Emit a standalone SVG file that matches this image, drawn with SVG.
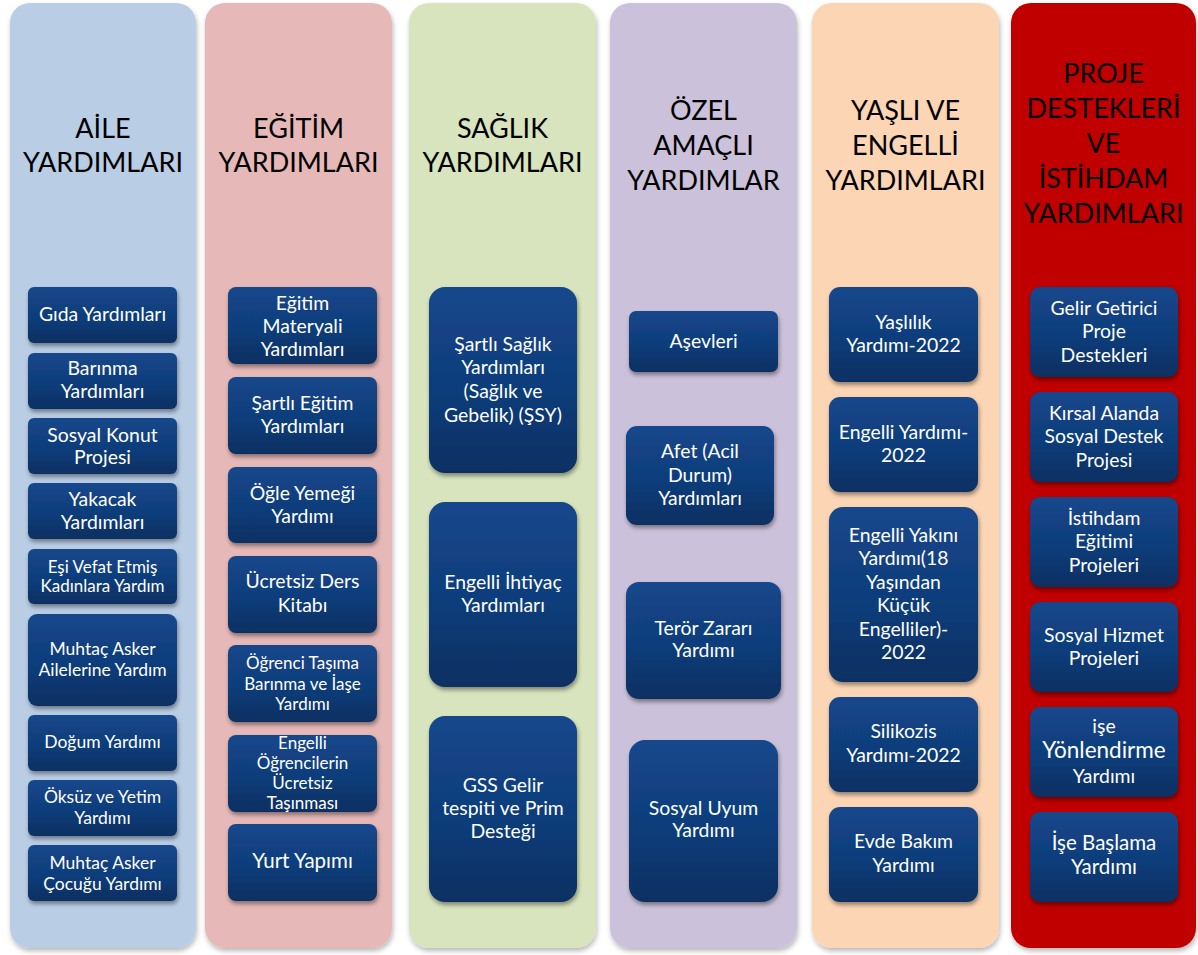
<svg xmlns="http://www.w3.org/2000/svg" width="1198" height="955" viewBox="0 0 1198 955">
<defs>
<linearGradient id="bx" x1="0" y1="0" x2="0" y2="1">
<stop offset="0" stop-color="#14478c"/>
<stop offset="0.55" stop-color="#103d7a"/>
<stop offset="1" stop-color="#0a2f62"/>
</linearGradient>
<filter id="csh" x="-10%" y="-5%" width="125%" height="115%">
<feDropShadow dx="1" dy="3" stdDeviation="2.5" flood-color="#000" flood-opacity="0.28"/>
</filter>
<filter id="bsh" x="-10%" y="-10%" width="125%" height="135%">
<feDropShadow dx="1" dy="3" stdDeviation="2.2" flood-color="#000" flood-opacity="0.4"/>
</filter>
</defs>
<style>
.col{filter:url(#csh)}
.b{fill:url(#bx);filter:url(#bsh)}
.h{font-family:Lato,"Open Sans","Liberation Sans",sans-serif;font-size:27px;fill:#000;text-anchor:middle}
.t{font-family:Lato,"Open Sans","Liberation Sans",sans-serif;font-size:19.4px;fill:#fff;text-anchor:middle}
.s{font-size:17px}
.m{font-size:17.5px}
.l{font-size:20.5px}
.xl{font-size:22.5px}
</style>
<rect width="1198" height="955" fill="#fff"/>

<g id="col-aile">
<rect class="col" x="10" y="3" width="186" height="945" rx="20" fill="#b9cde5"/>
<text class="h" x="103" y="138">AİLE</text>
<text class="h" x="103" y="172">YARDIMLARI</text>
</g>
<g id="col-egitim">
<rect class="col" x="205" y="3" width="187" height="945" rx="20" fill="#e6b9b8"/>
<text class="h" x="298.5" y="138">EĞİTİM</text>
<text class="h" x="298.5" y="172">YARDIMLARI</text>
</g>
<g id="col-saglik">
<rect class="col" x="409" y="3" width="187" height="945" rx="20" fill="#d7e4bd"/>
<text class="h" x="502.5" y="138">SAĞLIK</text>
<text class="h" x="502.5" y="172">YARDIMLARI</text>
</g>
<g id="col-ozel">
<rect class="col" x="610" y="3" width="187" height="945" rx="20" fill="#ccc1da"/>
<text class="h" x="703.5" y="120">ÖZEL</text>
<text class="h" x="703.5" y="155">AMAÇLI</text>
<text class="h" x="703.5" y="190">YARDIMLAR</text>
</g>
<g id="col-yasli">
<rect class="col" x="812" y="3" width="187" height="945" rx="20" fill="#fcd5b5"/>
<text class="h" x="905.5" y="120">YAŞLI VE</text>
<text class="h" x="905.5" y="155">ENGELLİ</text>
<text class="h" x="905.5" y="190">YARDIMLARI</text>
</g>
<g id="col-proje">
<rect class="col" x="1011" y="3" width="185" height="945" rx="20" fill="#c00000"/>
<text class="h" x="1103.5" y="83">PROJE</text>
<text class="h" x="1103.5" y="118">DESTEKLERİ</text>
<text class="h" x="1103.5" y="153">VE</text>
<text class="h" x="1103.5" y="188">İSTİHDAM</text>
<text class="h" x="1103.5" y="223">YARDIMLARI</text>
</g>

<!-- Column 1 -->
<g id="n-gida"><rect class="b" x="28" y="287" width="149" height="56" rx="6"/><text class="t" x="102.5" y="321">Gıda Yardımları</text></g>
<g id="n-barinma"><rect class="b" x="28" y="353" width="149" height="56" rx="6"/><text class="t" x="102.5" y="375">Barınma</text><text class="t" x="102.5" y="398">Yardımları</text></g>
<g id="n-konut"><rect class="b" x="28" y="418" width="149" height="56" rx="6"/><text class="t" x="102.5" y="442">Sosyal Konut</text><text class="t" x="102.5" y="464">Projesi</text></g>
<g id="n-yakacak"><rect class="b" x="28" y="483" width="149" height="56" rx="6"/><text class="t" x="102.5" y="506">Yakacak</text><text class="t" x="102.5" y="529">Yardımları</text></g>
<g id="n-esi"><rect class="b" x="28" y="549" width="149" height="55" rx="6"/><text class="t s" x="102.5" y="573">Eşi Vefat Etmiş</text><text class="t s" x="102.5" y="592">Kadınlara Yardım</text></g>
<g id="n-muhtac-aile"><rect class="b" x="28" y="614" width="149" height="92" rx="9"/><text class="t m" x="102.5" y="655">Muhtaç Asker</text><text class="t m" x="102.5" y="676">Ailelerine  Yardım</text></g>
<g id="n-dogum"><rect class="b" x="28" y="715" width="149" height="56" rx="6"/><text class="t m" x="102.5" y="748">Doğum Yardımı</text></g>
<g id="n-oksuz"><rect class="b" x="28" y="780" width="149" height="56" rx="6"/><text class="t m" x="102.5" y="803">Öksüz ve Yetim</text><text class="t m" x="102.5" y="824">Yardımı</text></g>
<g id="n-muhtac-cocuk"><rect class="b" x="28" y="845" width="149" height="56" rx="6"/><text class="t m" x="102.5" y="869">Muhtaç Asker</text><text class="t m" x="102.5" y="890">Çocuğu Yardımı</text></g>

<!-- Column 2 -->
<g id="n-materyal"><rect class="b" x="228" y="287" width="149" height="77" rx="8"/><text class="t" x="302.5" y="310">Eğitim</text><text class="t" x="302.5" y="333">Materyali</text><text class="t" x="302.5" y="356">Yardımları</text></g>
<g id="n-sartli-egitim"><rect class="b" x="228" y="377" width="149" height="77" rx="8"/><text class="t" x="302.5" y="410">Şartlı Eğitim</text><text class="t" x="302.5" y="433">Yardımları</text></g>
<g id="n-ogle"><rect class="b" x="228" y="467" width="149" height="76" rx="8"/><text class="t" x="302.5" y="500">Öğle Yemeği</text><text class="t" x="302.5" y="523">Yardımı</text></g>
<g id="n-ders"><rect class="b" x="228" y="556" width="149" height="77" rx="8"/><text class="t" x="302.5" y="588">Ücretsiz Ders</text><text class="t" x="302.5" y="612">Kitabı</text></g>
<g id="n-tasima"><rect class="b" x="228" y="645" width="149" height="77" rx="8"/><text class="t s" x="302.5" y="669">Öğrenci Taşıma</text><text class="t s" x="302.5" y="690">Barınma ve İaşe</text><text class="t s" x="302.5" y="710">Yardımı</text></g>
<g id="n-engelli-ogr"><rect class="b" x="228" y="735" width="149" height="77" rx="8"/><text class="t s" x="302.5" y="749">Engelli</text><text class="t s" x="302.5" y="769">Öğrencilerin</text><text class="t s" x="302.5" y="789">Ücretsiz</text><text class="t s" x="302.5" y="809">Taşınması</text></g>
<g id="n-yurt"><rect class="b" x="228" y="824" width="149" height="77" rx="8"/><text class="t l" x="302.5" y="868">Yurt Yapımı</text></g>

<!-- Column 3 -->
<g id="n-sartli-saglik"><rect class="b" x="429" y="287" width="148" height="186" rx="16"/><text class="t" x="503" y="351">Şartlı Sağlık</text><text class="t" x="503" y="374">Yardımları</text><text class="t" x="503" y="398">(Sağlık ve</text><text class="t" x="503" y="422">Gebelik) (ŞSY)</text></g>
<g id="n-engelli-ihtiyac"><rect class="b" x="429" y="502" width="148" height="185" rx="16"/><text class="t" x="503" y="589">Engelli İhtiyaç</text><text class="t" x="503" y="612">Yardımları</text></g>
<g id="n-gss"><rect class="b" x="429" y="716" width="148" height="186" rx="16"/><text class="t" x="503" y="792">GSS Gelir</text><text class="t" x="503" y="815">tespiti ve Prim</text><text class="t" x="503" y="838">Desteği</text></g>

<!-- Column 4 -->
<g id="n-asevleri"><rect class="b" x="629" y="311" width="149" height="61" rx="7"/><text class="t" x="703.5" y="348">Aşevleri</text></g>
<g id="n-afet"><rect class="b" x="626" y="426" width="148" height="99" rx="11"/><text class="t" x="700" y="458">Afet (Acil</text><text class="t" x="700" y="482">Durum)</text><text class="t" x="700" y="505">Yardımları</text></g>
<g id="n-teror"><rect class="b" x="626" y="582" width="155" height="117" rx="13"/><text class="t" x="703.5" y="635">Terör Zararı</text><text class="t" x="703.5" y="657">Yardımı</text></g>
<g id="n-uyum"><rect class="b" x="629" y="740" width="149" height="162" rx="16"/><text class="t" x="703.5" y="815">Sosyal Uyum</text><text class="t" x="703.5" y="837">Yardımı</text></g>

<!-- Column 5 -->
<g id="n-yaslilik"><rect class="b" x="829" y="287" width="149" height="95" rx="11"/><text class="t" x="903.5" y="329">Yaşlılık</text><text class="t" x="903.5" y="352">Yardımı-2022</text></g>
<g id="n-engelli"><rect class="b" x="829" y="397" width="149" height="95" rx="11"/><text class="t" x="903.5" y="439">Engelli Yardımı-</text><text class="t" x="903.5" y="462">2022</text></g>
<g id="n-engelli-yakini"><rect class="b" x="829" y="507" width="149" height="175" rx="14"/><text class="t" x="903.5" y="542">Engelli Yakını</text><text class="t" x="903.5" y="565">Yardımı(18</text><text class="t" x="903.5" y="589">Yaşından</text><text class="t" x="903.5" y="612">Küçük</text><text class="t" x="903.5" y="636">Engelliler)-</text><text class="t" x="903.5" y="659">2022</text></g>
<g id="n-silikozis"><rect class="b" x="829" y="697" width="149" height="95" rx="11"/><text class="t" x="903.5" y="738">Silikozis</text><text class="t" x="903.5" y="762">Yardımı-2022</text></g>
<g id="n-evde"><rect class="b" x="829" y="807" width="149" height="95" rx="11"/><text class="t" x="903.5" y="848">Evde Bakım</text><text class="t" x="903.5" y="872">Yardımı</text></g>

<!-- Column 6 -->
<g id="n-gelir"><rect class="b" x="1030" y="287" width="148" height="90" rx="10"/><text class="t" x="1104" y="315">Gelir Getirici</text><text class="t" x="1104" y="338">Proje</text><text class="t" x="1104" y="362">Destekleri</text></g>
<g id="n-kirsal"><rect class="b" x="1030" y="392" width="148" height="90" rx="10"/><text class="t" x="1104" y="420">Kırsal Alanda</text><text class="t" x="1104" y="443">Sosyal Destek</text><text class="t" x="1104" y="467">Projesi</text></g>
<g id="n-istihdam"><rect class="b" x="1030" y="497" width="148" height="90" rx="10"/><text class="t" x="1104" y="525">İstihdam</text><text class="t" x="1104" y="548">Eğitimi</text><text class="t" x="1104" y="572">Projeleri</text></g>
<g id="n-sosyal-hizmet"><rect class="b" x="1030" y="602" width="148" height="90" rx="10"/><text class="t" x="1104" y="642">Sosyal Hizmet</text><text class="t" x="1104" y="665">Projeleri</text></g>
<g id="n-yonlendirme"><rect class="b" x="1030" y="707" width="148" height="90" rx="10"/><text class="t" x="1104" y="733">işe</text><text class="t xl" x="1104" y="758">Yönlendirme</text><text class="t" x="1104" y="783">Yardımı</text></g>
<g id="n-ise-baslama"><rect class="b" x="1030" y="812" width="148" height="90" rx="10"/><text class="t l" x="1104" y="850">İşe Başlama</text><text class="t l" x="1104" y="874">Yardımı</text></g>

<g id="connectors"></g>
</svg>
